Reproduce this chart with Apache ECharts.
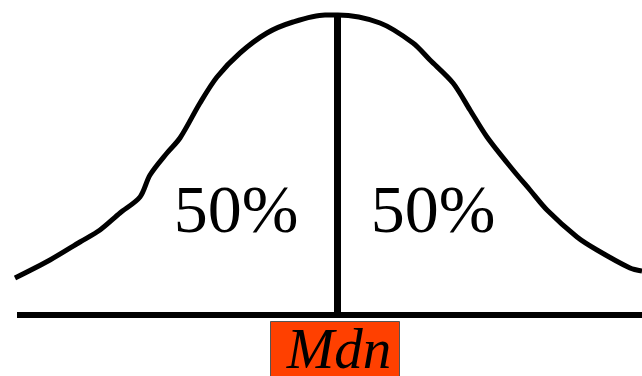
<!DOCTYPE html>
<html lang="en">
<head>
<meta charset="utf-8" />
<title>Median</title>
<script src="https://cdn.jsdelivr.net/npm/echarts@6/dist/echarts.min.js"></script>
</head>
<body style="margin:0;background:#fff">
<div id="chart" style="width:642px;height:376px"></div>
<script>
// curve (x, height above baseline)
let curveX = [15, 50, 80, 100, 120, 140, 150, 167, 180, 200, 217, 240, 267, 293, 325, 338,
  380, 413, 430, 453, 470, 487, 513, 530, 547, 577, 597, 630, 642]
let curveY = [37, 55, 73, 85, 102, 118, 140, 162, 177, 212, 238, 262, 282, 293, 300, 300,
  292, 272, 255, 232, 205, 178, 145, 125, 105, 78, 65, 47, 44]
let baseX = [17, 642]
let medianX = 337.5
let medianTop = 300
let halfLabels = ['50%', '50%']
let medianLabel = 'Mdn'

let chart = echarts.init(document.getElementById('chart'))

let serif = '"Liberation Serif", "Times New Roman", serif'

chart.setOption({
  animation: false,
  grid: { left: 0, right: 0, top: 0, bottom: 61 },
  xAxis: { type: 'value', min: 0, max: 642, show: false },
  yAxis: { type: 'value', min: 0, max: 315, show: false },
  series: [
    {
      type: 'line',
      data: curveX.map((x, i) => [x, curveY[i]]),
      smooth: 0.3,
      symbol: 'none',
      lineStyle: { color: '#000', width: 5 }
    },
    {
      type: 'line',
      data: baseX.map(x => [x, 0]),
      symbol: 'none',
      lineStyle: { color: '#000', width: 6 }
    },
    {
      type: 'line',
      data: [[medianX, 0], [medianX, medianTop]],
      symbol: 'none',
      lineStyle: { color: '#000', width: 7 }
    }
  ],
  graphic: [
    {
      type: 'text', x: 236, y: 214,
      style: { text: halfLabels[0], font: '68px ' + serif, fill: '#000', align: 'center', verticalAlign: 'middle' }
    },
    {
      type: 'text', x: 433, y: 214,
      style: { text: halfLabels[1], font: '68px ' + serif, fill: '#000', align: 'center', verticalAlign: 'middle' }
    },
    {
      type: 'rect',
      shape: { x: 270.5, y: 321.5, width: 129, height: 60 },
      style: { fill: '#ff4000', stroke: '#555', lineWidth: 1 }
    },
    {
      type: 'text', x: 339, y: 353,
      style: { text: medianLabel, font: 'italic 57px ' + serif, fill: '#000', align: 'center', verticalAlign: 'middle' }
    }
  ]
})
</script>
</body>
</html>
